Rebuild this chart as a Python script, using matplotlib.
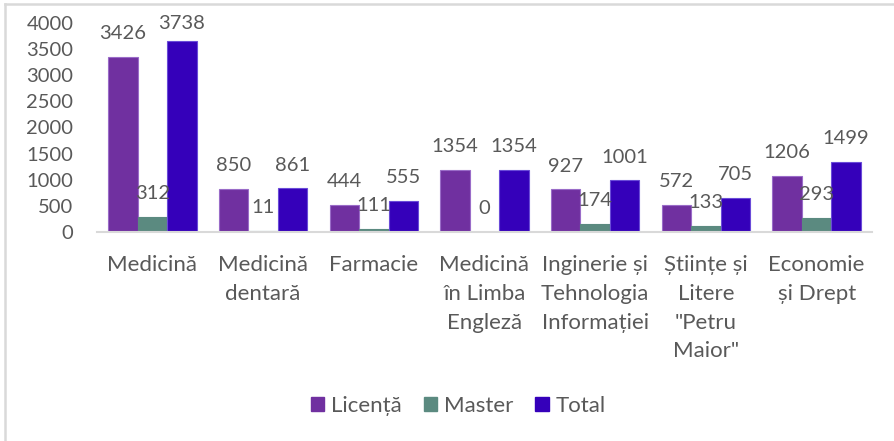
import matplotlib
matplotlib.use("Agg")
import matplotlib.pyplot as plt
import numpy as np
from matplotlib.lines import Line2D

categories = ["Medicină", "Medicină\ndentară", "Farmacie", "Medicină\nîn Limba\nEngleză",
              "Inginerie și\nTehnologia\nInformației", "Științe și\nLitere\n\"Petru\nMaior\"",
              "Economie\nși Drept"]
series_names = ["Licență", "Master", "Total"]

# bar heights as drawn in the picture
licenta = [3340, 819, 514, 1194, 813, 514, 1067]
master = [286, 11, 63, 0, 158, 114, 260]
total = [3652, 832, 590, 1194, 985, 648, 1347]

# data labels as printed in the picture
licenta_lbl = ["3426", "850", "444", "1354", "927", "572", "1206"]
master_lbl = ["312", "11", "111", "0", "174", "133", "293"]
total_lbl = ["3738", "861", "555", "1354", "1001", "705", "1499"]

yticks = [0, 500, 1000, 1500, 2000, 2500, 3000, 3500, 4000]

colors = ["#7030A0", "#5B8A80", "#3500BA"]
edges = ["#9A6CC8", "#5B8A80", "#6A4BD8"]
text_color = "#595959"

plt.rcParams['font.family'] = ['Lato', 'DejaVu Sans']

W, H = 895, 441
fig = plt.figure(figsize=(W / 100, H / 100), dpi=100)
ax = fig.add_axes([97 / W, 1 - 232 / H, (872 - 97) / W, (232 - 22.7) / H])

x = np.arange(len(categories))
bw = 0.8 / 3
series = [licenta, master, total]
labels = [licenta_lbl, master_lbl, total_lbl]
for i, (vals, lbls) in enumerate(zip(series, labels)):
    xs = x + (i - 1) * bw
    ax.bar(xs, vals, width=bw, color=colors[i], edgecolor=edges[i], linewidth=0.8,
           label=series_names[i], zorder=2)
    for xi, v, t in zip(xs, vals, lbls):
        ly = min(v + 448, 3987)
        ax.text(xi, ly, t, ha='center', va='center', fontsize=14.5,
                color=text_color, clip_on=False, zorder=3)

ax.set_xlim(-0.5, len(categories) - 0.5)
ax.set_ylim(0, 4000)
ax.set_yticks(yticks)
ax.set_yticklabels([str(t) for t in yticks], fontsize=14.5, color=text_color)
ax.set_xticks(x)
ax.set_xticklabels(categories, fontsize=16, color=text_color, linespacing=1.55, va='top')
ax.tick_params(axis='y', length=0, pad=17)
ax.tick_params(axis='x', length=0, pad=16.5)
for s in ["top", "right", "left"]:
    ax.spines[s].set_visible(False)
ax.spines["bottom"].set_color("#D9D9D9")
ax.spines["bottom"].set_linewidth(1.5)

handles = [plt.Rectangle((0, 0), 1, 1, facecolor=colors[i], edgecolor=colors[i])
           for i in range(3)]
leg = fig.legend(handles, series_names, loc='center', bbox_to_anchor=(458 / W, 1 - 406 / H),
                 ncol=3, frameon=False, fontsize=16, handlelength=0.6, handleheight=0.6,
                 handletextpad=0.3, columnspacing=1.0)
for t in leg.get_texts():
    t.set_color(text_color)

# chart border (left and top visible)
fig.add_artist(Line2D([5 / W, 5 / W], [0, 1 - 4 / H], transform=fig.transFigure,
                      color="#D9D9D9", linewidth=1.8))
fig.add_artist(Line2D([5 / W, 1], [1 - 4 / H, 1 - 4 / H], transform=fig.transFigure,
                      color="#D9D9D9", linewidth=1.8))

fig.savefig("out.png", dpi=100)
